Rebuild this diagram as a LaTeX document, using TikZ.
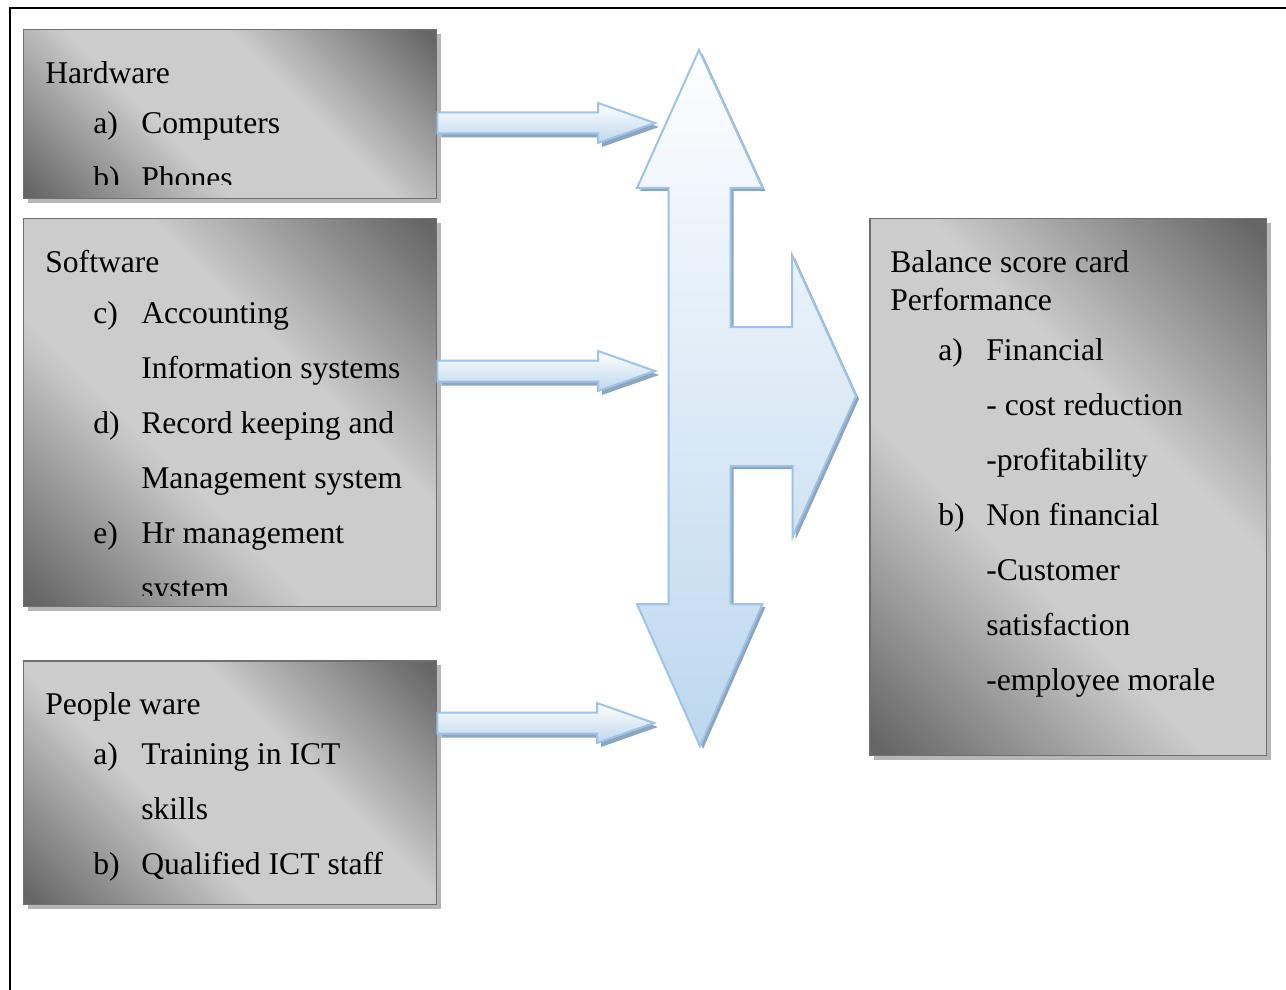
\documentclass[tikz,border=0pt]{standalone}
\usepackage{fontspec}
\setmainfont{Liberation Serif}
\usetikzlibrary{positioning,calc,shadows}

\definecolor{boxdark}{RGB}{102,102,102}
\definecolor{boxlight}{RGB}{204,204,204}
\definecolor{boxline}{RGB}{112,112,112}
\definecolor{boxshadow}{RGB}{182,182,182}
\definecolor{arrowline}{RGB}{157,195,230}
\definecolor{arrowtop}{RGB}{253,254,255}
\definecolor{arrowbot}{RGB}{189,215,238}
\definecolor{arrowshadow}{RGB}{141,165,193}

\pgfdeclarehorizontalshading{boxshade}{100bp}{color(0bp)=(boxdark); color(16bp)=(boxdark); color(40bp)=(boxlight); color(60bp)=(boxlight); color(84bp)=(boxdark); color(100bp)=(boxdark)}

\newcommand{\lbl}[1]{\makebox[0.96cm][l]{#1}}

\begin{document}
\begin{tikzpicture}[x=0.02cm, y=-0.02cm,
	box/.style={draw=boxline, line width=0.03cm, shading=boxshade, shading angle=45,
		drop shadow={shadow xshift=0.08cm, shadow yshift=-0.08cm, fill=boxshadow, opacity=1},
		anchor=north west, inner sep=0pt},
	txt/.style={anchor=base west, inner sep=0pt, font=\fontsize{18}{21.6}\selectfont},
	flow/.style={draw=arrowline, line width=0.04cm, top color=white, bottom color=arrowbot,
		drop shadow={shadow xshift=0.08cm, shadow yshift=-0.08cm, fill=arrowshadow, opacity=1}},
	bigflow/.style={draw=arrowline, line width=0.04cm, top color=arrowtop, bottom color=arrowbot,
		drop shadow={shadow xshift=0.06cm, shadow yshift=-0.06cm, fill=arrowshadow, opacity=1}}]
	\useasboundingbox (0,0) rectangle (1286,990);
	\draw[line width=0.05cm] (10,990) -- (10,8) -- (1286,8);

	% hardware
	\node[box, minimum width=8.26cm, minimum height=3.38cm] (hw) at (23,29) {};
	\begin{scope}
		\clip (hw.north west) rectangle ($(hw.south east)+(0,-15)$);
		\node[txt] (hwt) at ($(hw.north west)+(22,55)$) {Hardware};
		\foreach \lab/\txt [count=\i from 0] in {a)/Computers, b)/Phones}
			\node[txt] (hw\i) at ($(hwt.base west)+(48,50+55*\i)$) {\lbl{\lab}\txt};
	\end{scope}

	% software
	\node[box, minimum width=8.26cm, minimum height=7.76cm] (sw) at (23,218) {};
	\begin{scope}
		\clip (sw.north west) rectangle ($(sw.south east)+(0,-12)$);
		\node[txt] (swt) at ($(sw.north west)+(22,55)$) {Software};
		\foreach \lab/\txt [count=\i from 0] in {c)/Accounting, {}/Information systems,
				d)/Record keeping and, {}/Management system, e)/Hr management, {}/system}
			\node[txt] (sw\i) at ($(swt.base west)+(48,50+55*\i)$) {\lbl{\lab}\txt};
	\end{scope}

	% people ware
	\node[box, minimum width=8.26cm, minimum height=4.88cm] (pw) at (23,660) {};
	\node[txt] (pwt) at ($(pw.north west)+(22,54)$) {People ware};
	\foreach \lab/\txt [count=\i from 0] in {a)/Training in ICT, {}/skills, b)/Qualified ICT staff}
		\node[txt] (pw\i) at ($(pwt.base west)+(48,50+55*\i)$) {\lbl{\lab}\txt};

	% balance score card
	\node[box, minimum width=7.94cm, minimum height=10.74cm] (bsc) at (869,218) {};
	\node[txt] (bsct) at ($(bsc.north west)+(21,55)$) {Balance score card};
	\node[txt] (bscp) at ($(bsct.base west)+(0,37)$) {Performance};
	\foreach \lab/\txt [count=\i from 0] in {a)/Financial, {}/- cost reduction, {}/-profitability,
			b)/Non financial, {}/-Customer, {}/satisfaction, {}/-employee morale}
		\node[txt] (bsc\i) at ($(bscp.base west)+(48,50+55*\i)$) {\lbl{\lab}\txt};

	% big arrow
	\path[bigflow] (699,50) -- (762.5,188) -- (730.5,188) -- (730.5,327) -- (792,327) -- (792,255)
		-- (856,396) -- (792.5,537) -- (792.5,466) -- (730.5,466) -- (730.5,604) -- (762.5,604)
		-- (700,746) -- (637,604) -- (668.5,604) -- (668.5,188) -- (637,188) -- cycle;
	\coordinate (tip1) at (655,123);
	\coordinate (tip2) at (655,371);
	\coordinate (tip3) at (654,723);
	\coordinate (hwtail) at (hw.east |- tip1);
	\coordinate (swtail) at (sw.east |- tip2);
	\coordinate (pwtail) at (pw.east |- tip3);

	\foreach \from/\to in {hwtail/tip1, swtail/tip2, pwtail/tip3}
		\path[flow] ($(\from)+(0,-10.5)$) -- ($(\to)+(-57,-10.5)$) -- ($(\to)+(-57,-20)$) -- (\to)
			-- ($(\to)+(-57,20)$) -- ($(\to)+(-57,10.5)$) -- ($(\from)+(0,10.5)$) -- cycle;
\end{tikzpicture}
\end{document}
